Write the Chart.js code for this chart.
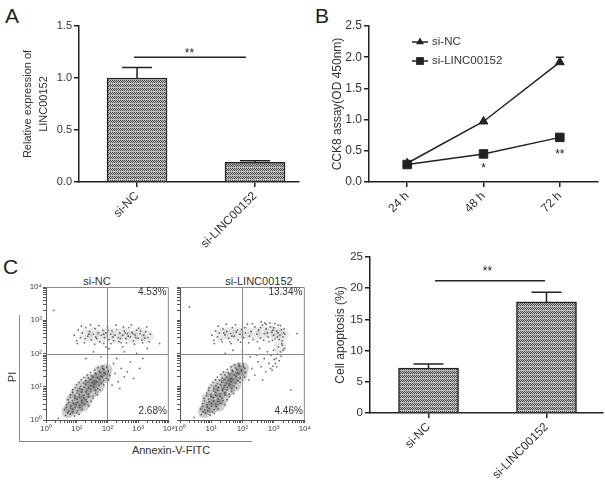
<!DOCTYPE html>
<html>
<head>
<meta charset="utf-8">
<script src="https://cdn.jsdelivr.net/npm/chart.js@4.4.0/dist/chart.umd.min.js"></script>
<style>
  body { margin: 0; background: #fff; }
  #fig { position: relative; width: 605px; height: 482px; overflow: hidden;
         font-family: "Liberation Sans", Arial, sans-serif; color: #333; }
  canvas { position: absolute; }
  .lbl { position: absolute; line-height: 1; white-space: nowrap; }
</style>
</head>
<body>
<div id="fig">
  <div class="lbl" style="left:5px;top:5px;font-size:21px;color:#222">A</div>
  <div class="lbl" style="left:315px;top:5px;font-size:21px;color:#222">B</div>
  <div class="lbl" style="left:3px;top:256px;font-size:21px;color:#222">C</div>
  <div style="position:absolute;left:19px;top:315px;width:232px;height:126px;border-left:1px solid #888;border-bottom:1px solid #888"></div>
  <div class="lbl" style="left:12px;top:377px;font-size:11px;transform:translate(-50%,-50%) rotate(-90deg)">PI</div>
  <div class="lbl" style="left:171px;top:450px;font-size:11px;transform:translate(-50%,-50%)">Annexin-V-FITC</div>
  <div class="lbl" style="left:97px;top:281px;font-size:11px;transform:translate(-50%,-50%)">si-NC</div>
  <div class="lbl" style="left:259px;top:281px;font-size:11px;transform:translate(-50%,-50%)">si-LINC00152</div>

  <canvas id="cA" width="300" height="250" style="left:0;top:0"></canvas>
  <canvas id="cB" width="305" height="250" style="left:300px;top:0"></canvas>
  <canvas id="cF1" width="154" height="172" style="left:22px;top:270px"></canvas>
  <canvas id="cF2" width="140" height="172" style="left:172px;top:270px"></canvas>
  <canvas id="cD" width="305" height="247" style="left:300px;top:235px"></canvas>
</div>
<script>
// ---- data ----
const groups = ['si-NC', 'si-LINC00152'];
const exprMean = [1.0, 0.19];
const exprErr = [0.10, 0.015];

const timePoints = ['24 h', '48 h', '72 h'];
const cckNC = [0.30, 0.97, 1.92];
const cckNCErr = [0, 0, 0.08];
const cckSi = [0.28, 0.45, 0.715];
const cckSiErr = [0, 0, 0.02];

const apoMean = [7.2, 17.8];
const apoErr = [0.65, 1.55];

const flowUR = ['4.53%', '13.34%'];
const flowLR = ['2.68%', '4.46%'];

// flow events, in decades (log10 of intensity): [Annexin-V, PI]
const flowNC = [
  // viable cells (lower-left cloud)
  [0.64,0.14],[0.79,0.18],[0.93,0.12],[1.08,0.17],
  [0.60,0.31],[0.74,0.27],[0.88,0.33],[1.03,0.28],[1.18,0.32],
  [0.67,0.46],[0.81,0.43],[0.96,0.48],[1.10,0.44],[1.25,0.47],[1.40,0.42],
  [0.72,0.61],[0.86,0.58],[1.01,0.63],[1.16,0.59],[1.31,0.62],[1.47,0.57],
  [0.79,0.76],[0.94,0.73],[1.09,0.77],[1.24,0.74],[1.38,0.78],[1.53,0.72],[1.68,0.76],
  [0.87,0.91],[1.02,0.88],[1.17,0.92],[1.31,0.87],[1.46,0.93],[1.61,0.89],[1.76,0.91],
  [0.99,1.06],[1.14,1.02],[1.29,1.07],[1.44,1.03],[1.58,1.08],[1.73,1.04],[1.88,1.06],
  [1.15,1.21],[1.29,1.18],[1.44,1.22],[1.59,1.17],[1.74,1.23],[1.88,1.19],[2.03,1.21],
  [1.34,1.36],[1.49,1.33],[1.64,1.37],[1.79,1.32],[1.94,1.38],[2.08,1.34],
  [1.58,1.51],[1.73,1.47],[1.88,1.52],[2.03,1.48],[1.84,1.63],[1.99,1.60],
  [0.71,0.22],[0.86,0.24],[1.00,0.21],[0.67,0.38],[0.81,0.36],[0.95,0.39],[1.10,0.37],
  [0.74,0.53],[0.89,0.51],[1.03,0.54],[1.18,0.52],[1.33,0.55],
  [0.79,0.68],[0.94,0.66],[1.08,0.69],[1.23,0.67],[1.38,0.70],[1.53,0.65],
  [0.87,0.83],[1.01,0.81],[1.16,0.84],[1.31,0.82],[1.46,0.85],[1.61,0.80],
  [0.95,0.98],[1.10,0.96],[1.24,0.99],[1.39,0.97],[1.54,1.00],[1.69,0.95],
  [1.07,1.13],[1.22,1.11],[1.37,1.14],[1.51,1.12],[1.66,1.15],[1.81,1.10],
  [1.23,1.28],[1.38,1.26],[1.52,1.29],[1.67,1.27],[1.82,1.30],[1.96,1.25],
  [1.45,1.43],[1.60,1.41],[1.75,1.44],[1.90,1.42],[2.02,1.45],[1.70,1.57],[1.85,1.55],[1.98,1.58],
  // scattered early apoptotic / transition
  [2.15,1.05],[2.25,1.40],[2.35,1.15],[2.45,1.55],[2.20,1.70],[2.55,1.30],[2.40,0.95],
  [1.30,1.85],[1.55,2.05],[1.80,1.90],[2.05,2.15],[2.30,1.85],[2.55,2.05],[2.75,1.75],[2.95,2.00],
  [3.15,1.85],[3.30,2.15],[2.65,1.45],[2.85,1.25],[3.05,1.55],[2.50,2.20],[1.95,2.20],
  // PI-high band
  [0.92,2.55],[1.00,2.38],[1.05,2.70],[1.12,2.48],[1.18,2.62],[1.25,2.32],[1.30,2.78],[1.36,2.52],
  [1.42,2.66],[1.48,2.40],[1.54,2.58],[1.60,2.75],[1.65,2.45],[1.70,2.62],[1.75,2.35],[1.80,2.55],
  [1.85,2.70],[1.90,2.48],[1.95,2.62],[2.00,2.82],[2.05,2.42],[2.10,2.58],[2.15,2.68],[2.20,2.38],
  [2.25,2.55],[2.30,2.72],[2.35,2.48],[2.40,2.62],[2.45,2.32],[2.50,2.55],[2.55,2.68],[2.60,2.45],
  [2.65,2.60],[2.70,2.78],[2.75,2.50],[2.80,2.64],[2.85,2.38],[2.90,2.56],[2.95,2.70],[3.00,2.46],
  [3.06,2.60],[3.12,2.40],[3.18,2.55],[3.25,2.66],[3.32,2.48],[3.40,2.58],
  [1.02,2.30],[1.15,2.82],[1.28,2.45],[1.45,2.86],[1.58,2.28],[1.72,2.84],[1.88,2.30],[2.02,2.70],
  [2.12,2.30],[2.28,2.85],[2.38,2.36],[2.52,2.80],[2.62,2.32],[2.78,2.86],[2.88,2.28],[3.02,2.76],
  [3.15,2.32],[3.28,2.80],[3.36,2.35],[1.62,2.50],[1.88,2.58],[2.18,2.50],[2.42,2.45],[2.68,2.52],
  [2.92,2.48],[3.22,2.46],[1.40,2.58],[2.58,2.62],[2.82,2.60],[3.08,2.68],
  [0.25,3.30],[3.70,2.30],[0.40,0.05]
];
const flowNCCore = [
  [0.72,0.25],[0.80,0.35],[1.00,0.35],[0.85,0.60],[1.10,0.55],[1.30,0.60],[1.00,0.80],[1.25,0.80],
  [1.50,0.85],[1.20,1.00],[1.45,1.05],[1.70,1.00],[1.45,1.20],[1.70,1.25],[1.90,1.30],[1.75,1.45],
  [1.95,1.50],[1.20,0.45],[1.60,1.15],
  [1.30,2.55],[1.55,2.60],[1.80,2.50],[2.05,2.60],[2.30,2.50],[2.55,2.60],[2.80,2.50],[3.05,2.58],[3.30,2.52]
];
const flowSi = [
  // viable cells (lower-left cloud)
  [0.68,0.16],[0.82,0.21],[0.97,0.15],[1.10,0.20],
  [0.66,0.33],[0.80,0.30],[0.94,0.35],[1.09,0.31],[1.23,0.34],
  [0.72,0.49],[0.86,0.46],[1.01,0.51],[1.15,0.47],[1.30,0.50],[1.45,0.45],
  [0.78,0.65],[0.92,0.62],[1.07,0.67],[1.22,0.63],[1.36,0.66],[1.51,0.61],
  [0.85,0.81],[1.00,0.78],[1.14,0.83],[1.29,0.79],[1.44,0.82],[1.58,0.77],[1.72,0.80],
  [0.93,0.97],[1.08,0.94],[1.23,0.98],[1.37,0.93],[1.52,0.99],[1.66,0.95],[1.81,0.97],
  [1.05,1.13],[1.20,1.09],[1.34,1.14],[1.49,1.10],[1.63,1.15],[1.78,1.11],[1.93,1.13],
  [1.20,1.29],[1.35,1.26],[1.49,1.30],[1.64,1.25],[1.79,1.31],[1.93,1.27],[2.07,1.29],
  [1.39,1.45],[1.54,1.42],[1.69,1.46],[1.83,1.41],[1.98,1.47],[2.10,1.43],
  [1.63,1.60],[1.78,1.57],[1.92,1.61],[2.05,1.58],[1.88,1.70],[2.03,1.68],
  [0.75,0.25],[0.89,0.27],[1.04,0.24],[0.73,0.41],[0.87,0.39],[1.01,0.42],[1.16,0.40],
  [0.79,0.57],[0.93,0.55],[1.08,0.58],[1.23,0.56],[1.38,0.59],
  [0.85,0.73],[0.99,0.71],[1.14,0.74],[1.29,0.72],[1.44,0.75],[1.58,0.70],
  [0.92,0.89],[1.07,0.87],[1.21,0.90],[1.36,0.88],[1.51,0.91],[1.65,0.86],
  [1.00,1.05],[1.15,1.03],[1.30,1.06],[1.44,1.04],[1.59,1.07],[1.73,1.02],
  [1.13,1.21],[1.27,1.19],[1.42,1.22],[1.57,1.20],[1.71,1.23],[1.86,1.18],
  [1.30,1.37],[1.44,1.35],[1.59,1.38],[1.74,1.36],[1.88,1.39],[2.01,1.34],
  [1.52,1.52],[1.67,1.50],[1.82,1.53],[1.96,1.51],[2.08,1.55],[1.75,1.65],[1.90,1.64],[2.02,1.62],
  // scattered early apoptotic / transition and the hook
  [2.20,1.20],[2.30,1.55],[2.40,1.35],[2.50,1.75],[2.45,1.95],[2.60,1.60],[2.70,1.85],[2.75,1.45],
  [2.85,1.70],[2.92,1.95],[3.00,2.10],[3.08,1.85],[3.15,2.20],[3.22,2.05],[3.28,2.25],[3.35,2.15],
  [2.95,1.50],[2.80,2.05],[2.55,2.15],[2.25,1.90],[2.00,2.05],[1.70,2.10],[1.45,2.00],[2.65,1.20],[3.10,1.60],
  [3.30,2.10],[3.24,1.92],[3.18,1.78],[3.06,1.70],[2.98,1.62],[3.02,1.82],[2.90,1.55],[3.12,1.98],
  // PI-high band
  [1.02,2.55],[1.08,2.40],[1.14,2.68],[1.20,2.50],[1.26,2.62],[1.32,2.42],[1.38,2.74],[1.44,2.56],
  [1.50,2.66],[1.56,2.46],[1.62,2.60],[1.68,2.78],[1.74,2.52],[1.80,2.64],[1.86,2.40],[1.92,2.58],
  [1.98,2.72],[2.04,2.48],[2.10,2.62],[2.16,2.88],[2.22,2.52],[2.28,2.66],[2.34,2.42],[2.40,2.80],
  [2.46,2.58],[2.52,2.70],[2.58,2.46],[2.64,2.86],[2.70,2.60],[2.76,2.74],[2.82,2.50],[2.88,2.92],
  [2.94,2.64],[3.00,2.78],[3.05,2.44],[3.10,2.68],[3.15,2.86],[3.20,2.56],[3.25,2.72],[3.28,2.38],
  [3.32,2.62],[3.00,2.55],[2.85,2.36],[3.18,2.42],[2.60,2.95],[1.60,2.35],
  [1.10,2.30],[1.22,2.82],[1.35,2.35],[1.48,2.88],[1.64,2.30],[1.78,2.86],[1.94,2.34],[2.08,2.78],
  [2.20,2.32],[2.32,2.90],[2.48,2.36],[2.58,2.78],[2.72,2.92],[2.80,2.62],[2.90,2.80],[2.96,2.40],
  [3.04,2.90],[3.12,2.50],[3.22,2.84],[3.30,2.50],[3.34,2.74],[3.26,2.30],[1.40,2.62],[1.66,2.52],
  [1.84,2.70],[2.68,2.40],[2.98,2.70],[3.14,2.62],[3.36,2.58],[2.76,2.88],
  [0.30,3.40],[3.75,2.60],[3.55,0.90],[0.45,0.08]
];
const flowSiCore = [
  [0.78,0.25],[0.85,0.35],[1.05,0.40],[0.90,0.62],[1.15,0.60],[1.35,0.65],[1.05,0.85],[1.30,0.85],
  [1.55,0.90],[1.25,1.05],[1.50,1.10],[1.75,1.05],[1.50,1.28],[1.75,1.30],[1.95,1.35],[1.80,1.52],
  [2.00,1.55],[1.25,0.45],[1.65,1.20],
  [1.35,2.60],[1.60,2.60],[1.85,2.60],[2.10,2.62],[2.40,2.60],[2.65,2.65],[2.90,2.65],[3.10,2.62],
  [3.28,2.55],[3.20,2.20]
];

// ---- setup ----
Chart.defaults.font.family = '"Liberation Sans", Arial, sans-serif';
Chart.defaults.color = '#333';
const ink = '#222';

function makeHatch() {
  const c = document.createElement('canvas');
  c.width = 4; c.height = 4;
  const g = c.getContext('2d');
  g.fillStyle = '#bdbdbd';
  g.fillRect(0, 0, 4, 4);
  g.fillStyle = '#4a4a4a';
  [[0,0],[2,0],[1,1],[3,1],[0,2],[2,2]].forEach(p => g.fillRect(p[0], p[1], 1, 1));
  return g.createPattern(c, 'repeat');
}
const hatch = makeHatch();

function drawStars(ctx, text, x, y) {
  ctx.fillStyle = ink;
  ctx.font = '12px "Liberation Sans", Arial';
  ctx.textAlign = 'center';
  ctx.textBaseline = 'alphabetic';
  ctx.fillText(text, x, y + 7);
}

function barExtras(means, errs, sig) {
  return {
    id: 'barExtras',
    afterDatasetsDraw(chart) {
      const { ctx, scales: { x, y } } = chart;
      ctx.save();
      ctx.strokeStyle = ink;
      ctx.lineWidth = 1.5;
      means.forEach((m, i) => {
        const px = x.getPixelForValue(i + 1);
        const top = y.getPixelForValue(m + errs[i]);
        ctx.beginPath();
        ctx.moveTo(px, y.getPixelForValue(m));
        ctx.lineTo(px, top);
        ctx.moveTo(px - 15, top);
        ctx.lineTo(px + 15, top);
        ctx.stroke();
      });
      const ly = y.getPixelForValue(sig.y);
      ctx.beginPath();
      ctx.moveTo(x.getPixelForValue(sig.from), ly);
      ctx.lineTo(x.getPixelForValue(sig.to), ly);
      ctx.stroke();
      drawStars(ctx, '**', x.getPixelForValue(sig.starX), y.getPixelForValue(sig.starY));
      ctx.restore();
    }
  };
}

function axisStyle(size) {
  return {
    grid: { drawOnChartArea: false, offset: false, color: ink, lineWidth: 1.5, tickLength: 5 },
    border: { color: ink, width: 1.5 },
    ticks: { color: '#333', font: { size: size }, padding: 2 }
  };
}

function barChart(id, means, errs, o) {
  const xs = axisStyle(o.fs), ys = axisStyle(o.fs);
  return new Chart(document.getElementById(id), {
    type: 'bar',
    data: {
      datasets: [{
        data: means.map((v, i) => ({ x: i + 1, y: v })),
        backgroundColor: hatch,
        borderColor: ink,
        borderWidth: 1.5,
        barThickness: 60
      }]
    },
    options: {
      responsive: false,
      animation: false,
      layout: { padding: o.pad },
      plugins: { legend: { display: false }, tooltip: { enabled: false } },
      scales: {
        x: {
          type: 'linear', min: o.xmin, max: o.xmax, offset: false,
          grid: xs.grid, border: xs.border,
          afterBuildTicks: s => { s.ticks = groups.map((g, i) => ({ value: i + 1 })); },
          ticks: Object.assign(xs.ticks, {
            autoSkip: false, minRotation: 45, maxRotation: 45, font: { size: 12 },
            callback: v => groups[v - 1]
          }),
          afterFit: s => { s.height = o.xh; }
        },
        y: {
          min: 0, max: o.ymax,
          grid: ys.grid, border: ys.border,
          ticks: Object.assign(ys.ticks, { stepSize: o.step, callback: o.fmt }),
          title: {
            display: true, text: o.title, color: '#333',
            font: { size: o.tfs, lineHeight: o.tlh }, padding: { top: o.tpad, bottom: 0 }
          },
          afterFit: s => { s.width = o.yw; }
        }
      }
    },
    plugins: [barExtras(means, errs, o.sig)]
  });
}

// ---- A ----
barChart('cA', exprMean, exprErr, {
  pad: { top: 26, right: 1, left: 0, bottom: 0 },
  xmin: 0.508, xmax: 2.373, xh: 68, yw: 79,
  ymax: 1.5, step: 0.5, fmt: v => v.toFixed(1), fs: 11,
  title: ['Relative expression of', 'LINC00152'], tfs: 11, tlh: 1.45, tpad: 20,
  sig: { from: 0.974, to: 1.923, y: 1.2, starX: 1.444, starY: 1.274 }
});

// ---- B ----
const lineExtras = {
  id: 'lineExtras',
  afterDatasetsDraw(chart) {
    const { ctx, scales: { x, y } } = chart;
    ctx.save();
    ctx.strokeStyle = ink;
    ctx.lineWidth = 1.5;
    [[cckNC, cckNCErr], [cckSi, cckSiErr]].forEach(([vals, errs]) => {
      vals.forEach((v, i) => {
        if (!errs[i]) return;
        const px = x.getPixelForValue(i);
        const top = y.getPixelForValue(v + errs[i]);
        ctx.beginPath();
        ctx.moveTo(px, y.getPixelForValue(v));
        ctx.lineTo(px, top);
        ctx.moveTo(px - 4, top);
        ctx.lineTo(px + 4, top);
        ctx.stroke();
      });
    });
    drawStars(ctx, '*', x.getPixelForValue(1), y.getPixelForValue(0.28));
    drawStars(ctx, '**', x.getPixelForValue(2), y.getPixelForValue(0.504));

    // legend
    chart.data.datasets.forEach((ds, i) => {
      const ly = 42 + i * 19;
      ctx.beginPath();
      ctx.moveTo(112, ly);
      ctx.lineTo(128, ly);
      ctx.stroke();
      ctx.fillStyle = ink;
      Chart.helpers.drawPoint(ctx, { pointStyle: ds.pointStyle, radius: ds.pointRadius - 0.5, rotation: 0, borderWidth: 0 }, 120, ly);
      ctx.font = '11.5px "Liberation Sans", Arial';
      ctx.textAlign = 'left';
      ctx.textBaseline = 'middle';
      ctx.fillStyle = '#333';
      ctx.fillText(ds.label, 132, ly);
    });
    ctx.restore();
  }
};

const bx = axisStyle(12), by = axisStyle(12);
new Chart(document.getElementById('cB'), {
  type: 'line',
  data: {
    labels: timePoints,
    datasets: [
      { label: 'si-NC', data: cckNC, borderColor: ink, backgroundColor: ink, borderWidth: 1.5,
        pointStyle: 'triangle', pointRadius: 5, pointBorderWidth: 1, tension: 0 },
      { label: 'si-LINC00152', data: cckSi, borderColor: ink, backgroundColor: ink, borderWidth: 1.5,
        pointStyle: 'rect', pointRadius: 6, pointBorderWidth: 1, tension: 0 }
    ]
  },
  options: {
    responsive: false,
    animation: false,
    layout: { padding: { top: 26, right: 0, left: 0, bottom: 0 } },
    plugins: { legend: { display: false }, tooltip: { enabled: false } },
    scales: {
      x: {
        offset: true, grid: bx.grid, border: bx.border,
        ticks: Object.assign(bx.ticks, { autoSkip: false, minRotation: 45, maxRotation: 45 }),
        afterFit: s => { s.height = 68; }
      },
      y: {
        min: 0, max: 2.5, grid: by.grid, border: by.border,
        ticks: Object.assign(by.ticks, { stepSize: 0.5, callback: v => v.toFixed(1) }),
        title: { display: true, text: 'CCK8 assay(OD 450nm)', color: '#333', font: { size: 12 }, padding: { top: 30.5, bottom: 0 } },
        afterFit: s => { s.width = 69; }
      }
    }
  },
  plugins: [lineExtras]
});

// ---- C: flow plots ----
const sup = ['\u2070', '\u00b9', '\u00b2', '\u00b3', '\u2074'];
const logTicks = [];
for (let n = 0; n < 4; n++) for (let m = 1; m < 10; m++) logTicks.push(n + Math.log10(m));
logTicks.push(4);

function flowExtras(ur, lr) {
  return {
    id: 'flowExtras',
    afterDatasetsDraw(chart) {
      const { ctx, chartArea: a, scales: { x, y } } = chart;
      ctx.save();
      ctx.strokeStyle = '#8a8a8a';
      ctx.lineWidth = 1;
      const qx = Math.round(x.getPixelForValue(2)) + 0.5;
      const qy = Math.round(y.getPixelForValue(2)) + 0.5;
      ctx.beginPath();
      ctx.moveTo(a.left, a.top + 0.5);
      ctx.lineTo(a.right - 0.5, a.top + 0.5);
      ctx.lineTo(a.right - 0.5, a.bottom);
      ctx.moveTo(qx, a.top);
      ctx.lineTo(qx, a.bottom);
      ctx.moveTo(a.left, qy);
      ctx.lineTo(a.right, qy);
      ctx.stroke();
      ctx.fillStyle = '#333';
      ctx.font = '10px "Liberation Sans", Arial';
      ctx.textAlign = 'right';
      ctx.textBaseline = 'middle';
      ctx.fillText(ur, a.right - 2.5, a.top + 5);
      ctx.fillText(lr, a.right - 2, a.bottom - 8.5);
      ctx.restore();
    }
  };
}

function flowAxis(showLabels, size) {
  return {
    type: 'linear', min: 0, max: 4,
    afterBuildTicks: s => { s.ticks = logTicks.map(v => ({ value: v })); },
    grid: { drawOnChartArea: false, color: '#555', lineWidth: 1, tickLength: 3 },
    border: { color: '#555', width: 1 },
    ticks: {
      display: showLabels, autoSkip: false, maxRotation: 0, padding: 1,
      color: '#444', font: { size: 8 },
      callback: v => Number.isInteger(v) ? '10' + sup[v] : ''
    },
    afterFit: s => { if (s.isHorizontal()) s.height = size; else s.width = size; }
  };
}

function flowChart(id, pts, core, ur, lr, showY) {
  return new Chart(document.getElementById(id), {
    type: 'scatter',
    data: {
      datasets: [
        { data: pts.map(p => ({ x: p[0], y: p[1] })), pointRadius: 0.9, pointBorderWidth: 0,
          backgroundColor: 'rgba(60,60,60,0.75)' },
        { data: core.map(p => ({ x: p[0], y: p[1] })), pointRadius: 6.5, pointBorderWidth: 0,
          backgroundColor: c => (c.raw && c.raw.y < 2) ? 'rgba(95,95,95,0.3)' : 'rgba(125,125,125,0.16)' }
      ]
    },
    options: {
      responsive: false,
      animation: false,
      layout: { padding: { top: 17, right: 7, left: 0, bottom: 0 } },
      plugins: { legend: { display: false }, tooltip: { enabled: false } },
      scales: { x: flowAxis(true, 22), y: flowAxis(showY, showY ? 24 : 8) }
    },
    plugins: [flowExtras(ur, lr)]
  });
}

flowChart('cF1', flowNC, flowNCCore, flowUR[0], flowLR[0], true);
flowChart('cF2', flowSi, flowSiCore, flowUR[1], flowLR[1], false);

// ---- C: apoptosis bars ----
barChart('cD', apoMean, apoErr, {
  pad: { top: 22, right: 2, left: 0, bottom: 0 },
  xmin: 0.504, xmax: 2.479, xh: 69, yw: 70,
  ymax: 25, step: 5, fmt: v => String(v), fs: 11.5,
  title: 'Cell apoptosis (%)', tfs: 12, tlh: 1.2, tpad: 33,
  sig: { from: 1.055, to: 1.987, y: 21.2, starX: 1.50, starY: 23.27 }
});
</script>
</body>
</html>
